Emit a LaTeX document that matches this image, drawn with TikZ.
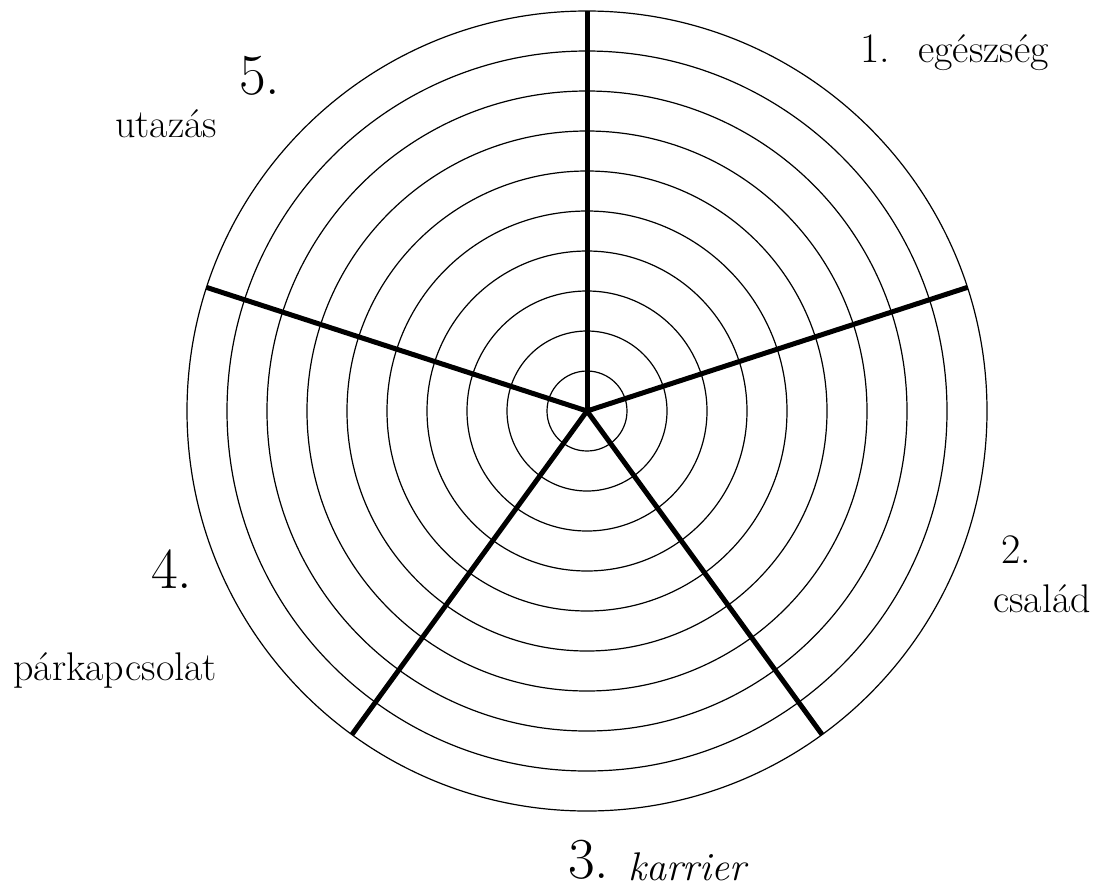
\documentclass[tikz,border=0pt]{standalone}
\usetikzlibrary{calc}
\begin{document}
\begin{tikzpicture}[x=1pt,y=-1pt,
  ring/.style={line width=1.2pt,black},
  spoke/.style={line width=5pt,black,line cap=butt},
  word/.style={inner sep=0pt,anchor=base west,font=\fontsize{40}{44}\selectfont},
  numsmall/.style={inner sep=0pt,anchor=base west,font=\fontsize{42}{46}\selectfont},
  numbig/.style={inner sep=0pt,anchor=base west,font=\fontsize{58}{62}\selectfont}]
\useasboundingbox (0,0) rectangle (1110,892);
\coordinate (c) at (587,411);
\foreach \i in {1,...,10} {\draw[ring] (c) circle[radius=40pt*\i];}
\coordinate (s1) at ($(c)+(0,-400)$);
\coordinate (s2) at ($(c)+(-18:400)$);
\coordinate (s3) at ($(c)+(54:400)$);
\coordinate (s4) at ($(c)+(126:400)$);
\coordinate (s5) at ($(c)+(-162:400)$);
\foreach \s in {s1,s2,s3,s4,s5} {\draw[spoke] (c) -- (\s);}
\node[numsmall] (n1) at (860,62) {1.};
\node[word] (w1) at (918,62) {egészség};
\node[numsmall] (n2) at (1001,563) {2.};
\node[word] (w2) at (993,612) {család};
\node[numbig] (n3) at (568,878) {3.};
\node[word] (w3) at (628,880) {\itshape karrier};
\node[numbig] (n4) at (151,588) {4.};
\node[word] (w4) at (13,680) {párkapcsolat};
\node[numbig] (n5) at (239,94) {5.};
\node[word] (w5) at (115,137) {utazás};
\end{tikzpicture}
\end{document}
